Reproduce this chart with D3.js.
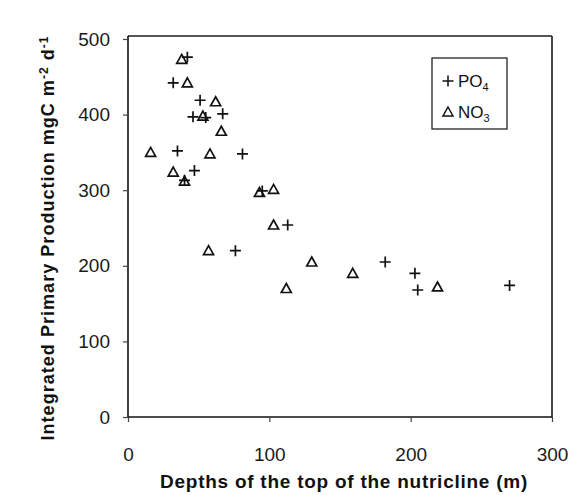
<!DOCTYPE html>
<html><head><meta charset="utf-8">
<script src="https://cdn.jsdelivr.net/npm/d3@7"></script>
<style>body{margin:0;background:#fff;} svg{display:block;}</style>
</head><body>
<svg id="chart" width="574" height="495"></svg>
<script>
// Data (depth of nutricline top in m, integrated primary production mgC m-2 d-1)
const po4Depth = [42, 32, 51, 46, 55, 67, 35, 81, 47, 40, 95, 113, 76, 182, 203, 205, 270];
const po4Prod  = [476, 442, 419, 397, 396, 401, 352, 348, 326, 313, 299, 254, 220, 205, 190, 168, 174];
const no3Depth = [38, 42, 62, 53, 66, 16, 58, 32, 40, 93, 103, 103, 57, 130, 159, 112, 219];
const no3Prod  = [473, 442, 417, 398, 378, 350, 348, 324, 312, 297, 301, 254, 220, 205, 190, 170, 172];
const xTicks = [0, 100, 200, 300];
const yTicks = [0, 100, 200, 300, 400, 500];
const xTitle = "Depths of the top of the nutricline (m)";
const legendLabels = ["PO", "NO"];
const legendSubs = ["4", "3"];

const svg = d3.select("#chart");
const L = 128, R = 552, T = 39, B = 417;
const x = d3.scaleLinear().domain([0, 300]).range([L, R]);
const y = d3.scaleLinear().domain([0, 500]).range([B, T]);

// frame
svg.append("line").attr("x1", L).attr("x2", R).attr("y1", 36).attr("y2", 36)
  .attr("stroke", "#555").attr("stroke-width", 2);
svg.append("line").attr("x1", R).attr("x2", R).attr("y1", 36).attr("y2", B)
  .attr("stroke", "#333").attr("stroke-width", 1.8);

const font = "'Liberation Sans', Arial, sans-serif";

const xAxis = svg.append("g").attr("transform", `translate(0,${B})`)
  .call(d3.axisBottom(x).tickValues(xTicks).tickSize(5).tickPadding(26).tickSizeOuter(0));
const yAxis = svg.append("g").attr("transform", `translate(${L},0)`)
  .call(d3.axisLeft(y).tickValues(yTicks).tickSize(5).tickPadding(13).tickSizeOuter(0));
[xAxis, yAxis].forEach(g => {
  g.select(".domain").attr("stroke", "#111").attr("stroke-width", 1.6);
  g.selectAll(".tick line").attr("stroke", "#444").attr("stroke-width", 1.2);
  g.selectAll(".tick text").attr("font-family", font).attr("font-size", 19)
    .attr("fill", "#1a1a1a");
});
xAxis.select(".domain").attr("d", `M${L},0H${R}`);
yAxis.select(".domain").attr("d", `M0,${B}V36`);

// fit text to a target length by adjusting letter spacing
function fit(t, target) {
  const node = t.node();
  const w = node.getComputedTextLength();
  const n = node.textContent.length;
  t.style("letter-spacing", ((target - w) / n) + "px");
}

// axis titles
const xt = svg.append("text").attr("x", 344).attr("y", 488).attr("text-anchor", "middle")
  .attr("font-family", font).attr("font-size", 19).attr("font-weight", "bold")
  .attr("fill", "#111").text(xTitle);
fit(xt, 368);

const yt = svg.append("text").attr("transform", "translate(54,238) rotate(-90)")
  .attr("text-anchor", "middle").attr("font-family", font).attr("font-size", 18)
  .attr("font-weight", "bold").attr("fill", "#111");
yt.append("tspan").text("Integrated Primary Production mgC m");
yt.append("tspan").attr("dy", -6).attr("font-size", 12).text("-2");
yt.append("tspan").attr("dy", 6).text(" d");
yt.append("tspan").attr("dy", -6).attr("font-size", 12).text("-1");
fit(yt, 405);

// markers
const plusPath = "M-5.5,0H5.5M0,-5.5V5.5";
const triPath = "M0,-5L5,4H-5Z";

const po4 = po4Depth.map((d, i) => ({d, p: po4Prod[i]}));
const no3 = no3Depth.map((d, i) => ({d, p: no3Prod[i]}));

svg.append("g").selectAll("path").data(no3).join("path")
  .attr("transform", d => `translate(${x(d.d)},${y(d.p)})`)
  .attr("d", triPath).attr("fill", "none").attr("stroke", "#111").attr("stroke-width", 1.7);
svg.append("g").selectAll("path").data(po4).join("path")
  .attr("transform", d => `translate(${x(d.d)},${y(d.p)})`)
  .attr("d", plusPath).attr("fill", "none").attr("stroke", "#111").attr("stroke-width", 1.7);

// legend
const lg = svg.append("g");
lg.append("rect").attr("x", 432).attr("y", 58).attr("width", 75).attr("height", 71)
  .attr("fill", "#fff").attr("stroke", "#222").attr("stroke-width", 1.3);
const legY = [81, 112];
[plusPath, triPath].forEach((p, i) => {
  lg.append("path").attr("transform", `translate(448,${legY[i]})`).attr("d", p)
    .attr("fill", "none").attr("stroke", "#111").attr("stroke-width", 1.5);
  const t = lg.append("text").attr("x", 458).attr("y", legY[i] + 6)
    .attr("font-family", font).attr("font-size", 17).attr("fill", "#111");
  t.append("tspan").text(legendLabels[i]);
  t.append("tspan").attr("dy", 4).attr("font-size", 11).text(legendSubs[i]);
});
</script>
</body></html>
